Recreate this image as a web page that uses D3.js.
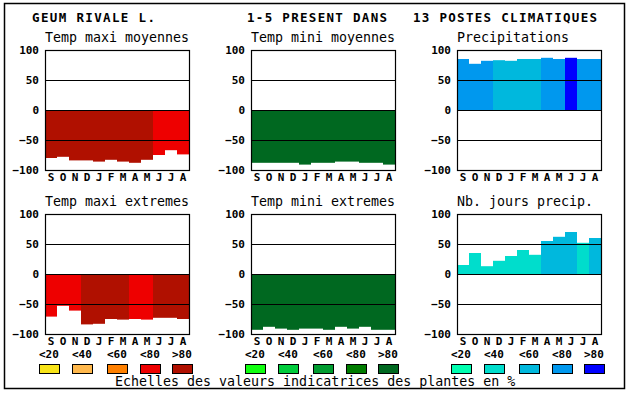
<!DOCTYPE html>
<meta charset="utf-8">
<script src="https://d3js.org/d3.v7.min.js"></script>
<style>
  body { margin: 0; background: #fff; }
  text { font-family: "DejaVu Sans Mono", monospace; fill: #000; }
</style>
<body>
<div id="chart"></div>
<script>

// months of the year, starting in september
const months = ["S","O","N","D","J","F","M","A","M","J","J","A"];
const classLabels = ["<20","<40","<60","<80",">80"];

// values (percent), and the colour class (0..4) of each bar
const tmaxMoy    = [-80, -78, -84, -84, -86, -83, -86, -88, -83, -75, -67, -74];
const tmaxMoyCls = [4, 4, 4, 4, 4, 4, 4, 4, 4, 3, 3, 3];

const tminMoy    = [-88, -88, -88, -88, -91, -88, -88, -86, -86, -88, -88, -91];
const tminMoyCls = [4, 4, 4, 4, 4, 4, 4, 4, 4, 4, 4, 4];

const precip     = [85, 77, 82, 83, 82, 85, 85, 87, 85, 87, 85, 85];
const precipCls  = [3, 3, 3, 2, 2, 2, 2, 3, 3, 4, 3, 3];

const tmaxExt    = [-71, -53, -61, -84, -83, -75, -76, -75, -76, -73, -73, -75];
const tmaxExtCls = [3, 3, 3, 4, 4, 4, 4, 3, 3, 4, 4, 4];

const tminExt    = [-93, -88, -91, -93, -91, -91, -93, -88, -91, -88, -93, -93];
const tminExtCls = [4, 4, 4, 4, 4, 4, 4, 4, 4, 4, 4, 4];

const nbJours    = [15, 35, 13, 22, 30, 40, 32, 55, 62, 70, 52, 60];
const nbJoursCls = [1, 1, 1, 1, 1, 1, 1, 2, 2, 2, 1, 2];

// colour ramps used by the three columns
const reds   = ["#f8e418", "#ffb84c", "#ff8000", "#ee0000", "#b01000"];
const greens = ["#10ff10", "#00cc3c", "#009c30", "#007c00", "#006820"];
const blues  = ["#00ffb0", "#00ddcc", "#00b8dd", "#0098ee", "#0000ff"];

const W = 630, H = 394;
const pw = 144, ph = 120;
const cols = [45, 251, 457];
const rows = [50, 214];

const panels = [
  {title: "Temp maxi moyennes", col: 0, row: 0, values: tmaxMoy, cls: tmaxMoyCls, ramp: reds},
  {title: "Temp mini moyennes", col: 1, row: 0, values: tminMoy, cls: tminMoyCls, ramp: greens},
  {title: "Precipitations",     col: 2, row: 0, values: precip,  cls: precipCls,  ramp: blues},
  {title: "Temp maxi extremes", col: 0, row: 1, values: tmaxExt, cls: tmaxExtCls, ramp: reds},
  {title: "Temp mini extremes", col: 1, row: 1, values: tminExt, cls: tminExtCls, ramp: greens},
  {title: "Nb. jours precip.",  col: 2, row: 1, values: nbJours, cls: nbJoursCls, ramp: blues}
];

const svg = d3.select("#chart").append("svg")
  .attr("width", W)
  .attr("height", H);

svg.append("rect")
  .attr("width", W).attr("height", H)
  .attr("fill", "#fff");

// outer frame
svg.append("rect")
  .attr("x", 4.5).attr("y", 3.5)
  .attr("width", 620).attr("height", 385)
  .attr("fill", "none")
  .attr("stroke", "#000")
  .attr("stroke-width", 1.5);

// header
const head = [
  {t: "GEUM RIVALE L.", x: 32, len: 123},
  {t: "1-5 PRESENT DANS", x: 247, len: 140},
  {t: "13 POSTES CLIMATIQUES", x: 413, len: 184}
];
svg.selectAll(".head").data(head).join("text")
  .attr("class", "head")
  .attr("x", d => d.x)
  .attr("y", 22)
  .attr("textLength", d => d.len)
  .attr("lengthAdjust", "spacing")
  .style("font-size", "12.5px")
  .style("font-weight", "bold")
  .text(d => d.t);

panels.forEach(p => {
  const x0 = cols[p.col], y0 = rows[p.row];
  const g = svg.append("g").attr("transform", `translate(${x0},${y0})`);

  const x = d3.scaleBand().domain(d3.range(12)).range([0, pw]).padding(0);
  const y = d3.scaleLinear().domain([-100, 100]).range([ph, 0]);

  g.selectAll("rect.bar")
    .data(p.values)
    .join("rect")
      .attr("class", "bar")
      .attr("x", (d, i) => x(i))
      .attr("width", x.bandwidth())
      .attr("y", d => y(Math.max(0, d)))
      .attr("height", d => Math.abs(y(d) - y(0)))
      .attr("fill", (d, i) => p.ramp[p.cls[i]]);

  // horizontal lines at 50, 0, -50
  g.selectAll("line.grid")
    .data([50, 0, -50])
    .join("line")
      .attr("class", "grid")
      .attr("x1", 0).attr("x2", pw)
      .attr("y1", d => Math.round(y(d)) + 0.5)
      .attr("y2", d => Math.round(y(d)) + 0.5)
      .attr("stroke", "#000")
      .attr("stroke-width", 1.2);

  g.append("rect")
    .attr("x", 0.5).attr("y", 0.5)
    .attr("width", pw).attr("height", ph)
    .attr("fill", "none")
    .attr("stroke", "#000")
    .attr("stroke-width", 1.2);

  // y axis labels
  const ya = g.append("g")
    .call(d3.axisLeft(y).tickValues([100, 50, 0, -50, -100]).tickSize(0).tickPadding(6));
  ya.select(".domain").remove();
  ya.selectAll("text")
    .style("font-family", "'DejaVu Sans Mono', monospace")
    .style("font-size", "11px")
    .style("font-weight", "bold")
    .attr("fill", "#000");

  // month labels
  const xa = g.append("g")
    .attr("transform", `translate(0,${ph})`)
    .call(d3.axisBottom(x).tickFormat(i => months[i]).tickSize(0).tickPadding(3));
  xa.select(".domain").remove();
  xa.selectAll("text")
    .style("font-family", "'DejaVu Sans Mono', monospace")
    .style("font-size", "11px")
    .style("font-weight", "bold")
    .attr("fill", "#000");

  g.append("text")
    .attr("x", 0)
    .attr("y", -8)
    .style("font-size", "13.3px")
    .text(p.title);
});

// colour legends under each column
const legOffsets = [0, 33, 68, 101, 133];
[reds, greens, blues].forEach((ramp, c) => {
  const lx = cols[c] - 6;
  const lg = svg.append("g").attr("transform", `translate(${lx},0)`);
  lg.selectAll("text")
    .data(classLabels)
    .join("text")
      .attr("x", (d, i) => legOffsets[i])
      .attr("y", 358)
      .style("font-size", "11px")
      .style("font-weight", "bold")
      .text(d => d);
  lg.selectAll("rect")
    .data(ramp)
    .join("rect")
      .attr("x", (d, i) => legOffsets[i] + 0.5)
      .attr("y", 364.5)
      .attr("width", 20)
      .attr("height", 9)
      .attr("fill", d => d)
      .attr("stroke", "#000")
      .attr("stroke-width", 1);
});

svg.append("text")
  .attr("x", 115)
  .attr("y", 386)
  .style("font-size", "13.3px")
  .text("Echelles des valeurs indicatrices des plantes en %");

</script>
</body>
